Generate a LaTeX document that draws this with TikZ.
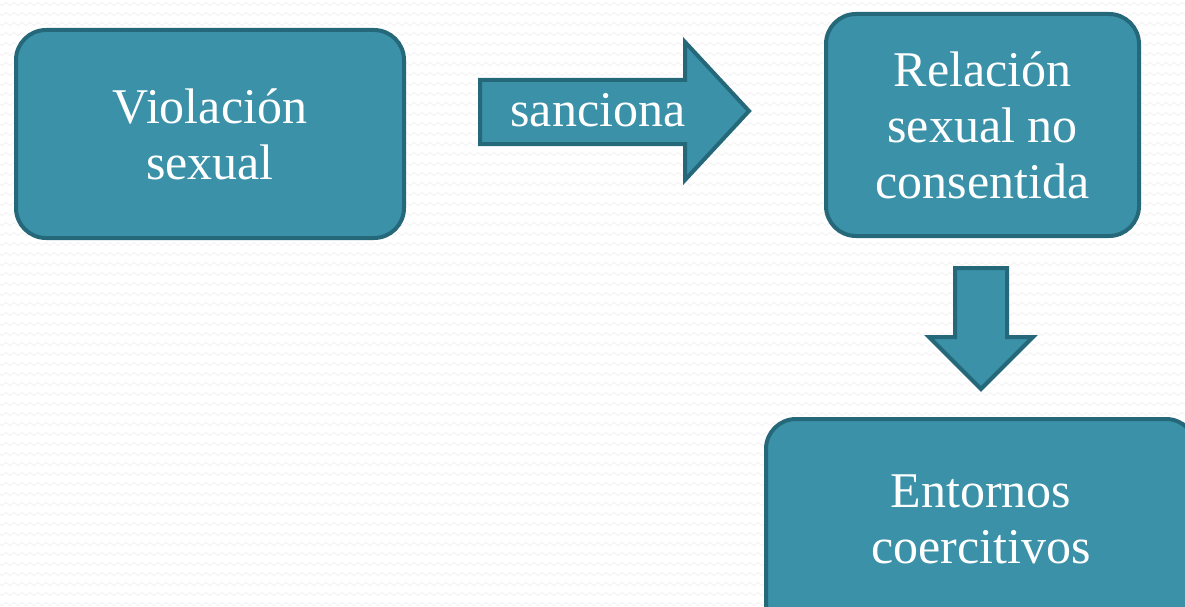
\documentclass[tikz,border=0pt]{standalone}
\usepackage{fontspec}
\setmainfont{Liberation Serif}
\usetikzlibrary{decorations.pathmorphing}
\definecolor{boxfill}{HTML}{3A91A8}
\definecolor{boxline}{HTML}{25687A}
\begin{document}
\begin{tikzpicture}[x=1pt,y=-1pt,
  box/.style={draw=boxline, fill=boxfill, line width=4pt, rounded corners=30pt,
    text=white, align=center, font=\fontsize{50}{56}\selectfont, inner sep=0pt},
  arrowshape/.style={draw=boxline, fill=boxfill, line width=4pt, line join=miter},
  arrowlabel/.style={text=white, font=\fontsize{50}{56}\selectfont, inner sep=0pt},
  bgline/.style={black!5, line width=0.8pt, decorate,
    decoration={zigzag, segment length=8pt, amplitude=1.5pt}}]
\useasboundingbox (0,0) rectangle (1185,607);
\clip (0,0) rectangle (1185,607);
\fill[white] (0,0) rectangle (1185,607);
\foreach \y in {4,14,...,610} \draw[bgline] (-4,\y) -- (1190,\y);

\node[box, minimum width=388pt, minimum height=208pt] (viol) at (210,134) {Violación\\sexual};
\node[box, minimum width=313pt, minimum height=222pt] (rel) at (982.5,125) {Relación\\sexual no\\consentida};
\node[box, minimum width=430pt, minimum height=214pt, text depth=0pt] (ent) at (981,526) {};
\node[text=white, align=center, font=\fontsize{50}{56}\selectfont, inner sep=0pt] (enttext) at (981,519) {Entornos\\coercitivos};

\coordinate (rtail) at (480,112);
\draw[arrowshape] (480,80) -- (685,80) -- (685,42) -- (749,111) -- (685,180) -- (685,144) -- (480,144) -- cycle;
\node[arrowlabel, anchor=base] (sanc) at (598,127) {sanciona};

\coordinate (dtail) at (981,268);
\draw[arrowshape] (955,268) -- (1007,268) -- (1007,337) -- (1033,337) -- (981,389) -- (929,337) -- (955,337) -- cycle;
\end{tikzpicture}
\end{document}
